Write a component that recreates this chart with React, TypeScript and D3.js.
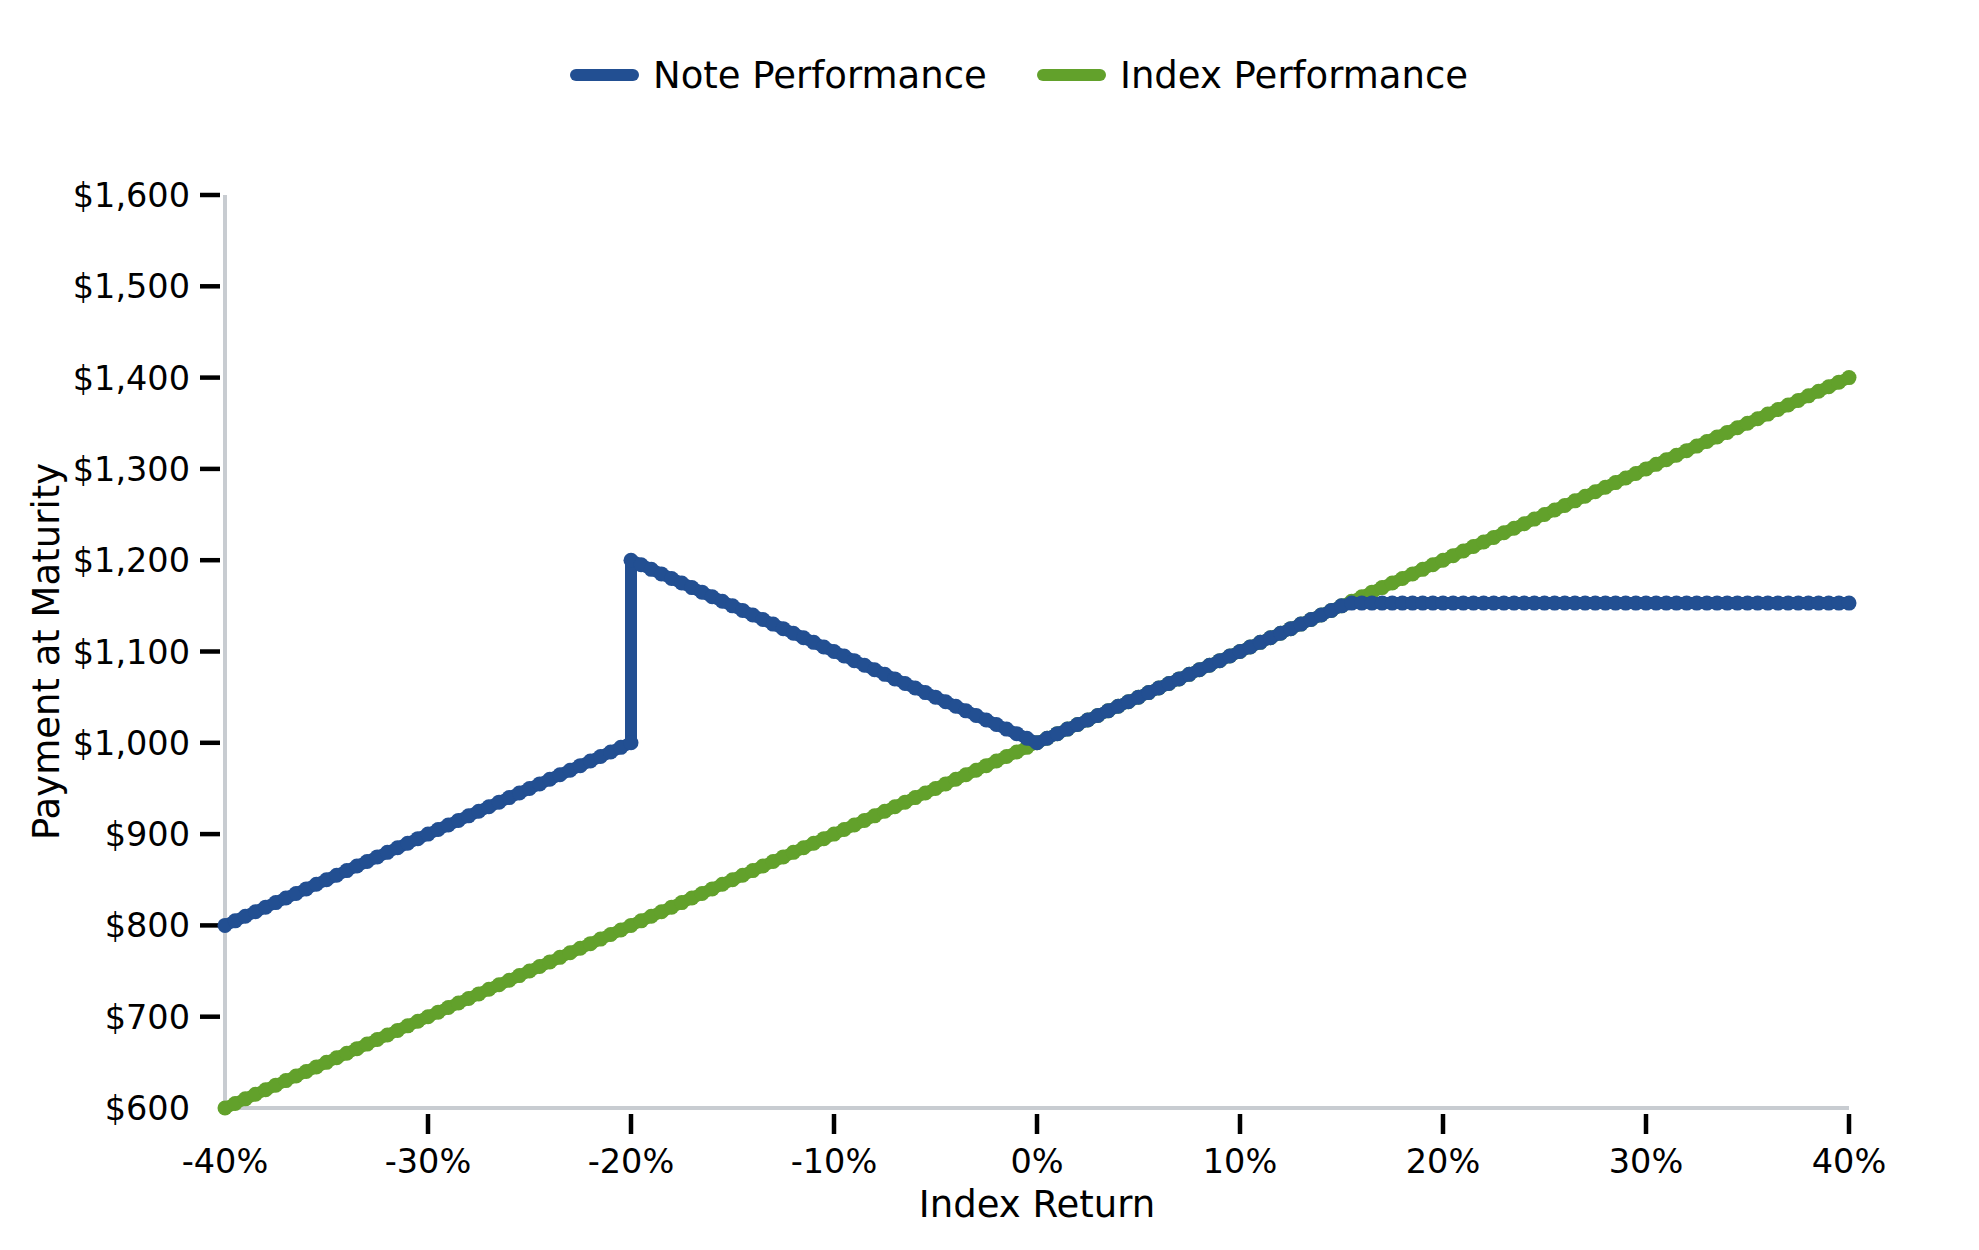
import * as d3 from "d3";
import React, { useEffect, useRef } from "react";

// index return in percent, one point every half percent
const returns = [
  -40, -39.5, -39, -38.5, -38, -37.5, -37, -36.5, -36, -35.5,
  -35, -34.5, -34, -33.5, -33, -32.5, -32, -31.5, -31, -30.5,
  -30, -29.5, -29, -28.5, -28, -27.5, -27, -26.5, -26, -25.5,
  -25, -24.5, -24, -23.5, -23, -22.5, -22, -21.5, -21, -20.5,
  -20, -19.5, -19, -18.5, -18, -17.5, -17, -16.5, -16, -15.5,
  -15, -14.5, -14, -13.5, -13, -12.5, -12, -11.5, -11, -10.5,
  -10, -9.5, -9, -8.5, -8, -7.5, -7, -6.5, -6, -5.5,
  -5, -4.5, -4, -3.5, -3, -2.5, -2, -1.5, -1, -0.5,
  0, 0.5, 1, 1.5, 2, 2.5, 3, 3.5, 4, 4.5,
  5, 5.5, 6, 6.5, 7, 7.5, 8, 8.5, 9, 9.5,
  10, 10.5, 11, 11.5, 12, 12.5, 13, 13.5, 14, 14.5,
  15, 15.5, 16, 16.5, 17, 17.5, 18, 18.5, 19, 19.5,
  20, 20.5, 21, 21.5, 22, 22.5, 23, 23.5, 24, 24.5,
  25, 25.5, 26, 26.5, 27, 27.5, 28, 28.5, 29, 29.5,
  30, 30.5, 31, 31.5, 32, 32.5, 33, 33.5, 34, 34.5,
  35, 35.5, 36, 36.5, 37, 37.5, 38, 38.5, 39, 39.5,
  40,
];

const indexValues = [
  600, 605, 610, 615, 620, 625, 630, 635, 640, 645,
  650, 655, 660, 665, 670, 675, 680, 685, 690, 695,
  700, 705, 710, 715, 720, 725, 730, 735, 740, 745,
  750, 755, 760, 765, 770, 775, 780, 785, 790, 795,
  800, 805, 810, 815, 820, 825, 830, 835, 840, 845,
  850, 855, 860, 865, 870, 875, 880, 885, 890, 895,
  900, 905, 910, 915, 920, 925, 930, 935, 940, 945,
  950, 955, 960, 965, 970, 975, 980, 985, 990, 995,
  1000, 1005, 1010, 1015, 1020, 1025, 1030, 1035, 1040, 1045,
  1050, 1055, 1060, 1065, 1070, 1075, 1080, 1085, 1090, 1095,
  1100, 1105, 1110, 1115, 1120, 1125, 1130, 1135, 1140, 1145,
  1150, 1155, 1160, 1165, 1170, 1175, 1180, 1185, 1190, 1195,
  1200, 1205, 1210, 1215, 1220, 1225, 1230, 1235, 1240, 1245,
  1250, 1255, 1260, 1265, 1270, 1275, 1280, 1285, 1290, 1295,
  1300, 1305, 1310, 1315, 1320, 1325, 1330, 1335, 1340, 1345,
  1350, 1355, 1360, 1365, 1370, 1375, 1380, 1385, 1390, 1395,
  1400,
];

// note payoff, -40% .. -20%
const noteBelowBarrier = [
  800, 805, 810, 815, 820, 825, 830, 835, 840, 845,
  850, 855, 860, 865, 870, 875, 880, 885, 890, 895,
  900, 905, 910, 915, 920, 925, 930, 935, 940, 945,
  950, 955, 960, 965, 970, 975, 980, 985, 990, 995,
  1000,
];

// note payoff, -20% .. 0%
const noteAbsolute = [
  1200, 1195, 1190, 1185, 1180, 1175, 1170, 1165, 1160, 1155,
  1150, 1145, 1140, 1135, 1130, 1125, 1120, 1115, 1110, 1105,
  1100, 1095, 1090, 1085, 1080, 1075, 1070, 1065, 1060, 1055,
  1050, 1045, 1040, 1035, 1030, 1025, 1020, 1015, 1010, 1005,
  1000,
];

// note payoff, 0.5% .. 40%
const noteUpside = [
  1005, 1010, 1015, 1020, 1025, 1030, 1035, 1040, 1045, 1050,
  1055, 1060, 1065, 1070, 1075, 1080, 1085, 1090, 1095, 1100,
  1105, 1110, 1115, 1120, 1125, 1130, 1135, 1140, 1145, 1150,
  1153, 1153, 1153, 1153, 1153, 1153, 1153, 1153, 1153, 1153,
  1153, 1153, 1153, 1153, 1153, 1153, 1153, 1153, 1153, 1153,
  1153, 1153, 1153, 1153, 1153, 1153, 1153, 1153, 1153, 1153,
  1153, 1153, 1153, 1153, 1153, 1153, 1153, 1153, 1153, 1153,
  1153, 1153, 1153, 1153, 1153, 1153, 1153, 1153, 1153, 1153,
];

const xTicks = [-40, -30, -20, -10, 0, 10, 20, 30, 40];
const yTicks = [600, 700, 800, 900, 1000, 1100, 1200, 1300, 1400, 1500, 1600];
const seriesNames = ["Note Performance", "Index Performance"];

const BLUE = "#224f92";
const GREEN = "#62a12b";

export default function App() {
  const ref = useRef<SVGSVGElement>(null);

  useEffect(() => {
    const width = 1979, height = 1250;
    const svg = d3.select(ref.current!);
    svg.selectAll("*").remove();
    svg.attr("width", width).attr("height", height);

    const x = d3.scaleLinear().domain([-40, 40]).range([225, 1849]);
    const y = d3.scaleLinear().domain([600, 1600]).range([1108, 195]);
    const font = "DejaVu Sans, sans-serif";

    type Pt = [number, number];
    const indexData: Pt[] = returns.map((r, i) => [r, indexValues[i]]);
    const noteData: Pt[] = [
      ...noteBelowBarrier.map((v, i): Pt => [returns[i], v]),
      ...noteAbsolute.map((v, i): Pt => [returns[40 + i], v]),
      ...noteUpside.map((v, i): Pt => [returns[81 + i], v]),
    ];

    // spines
    svg.append("line")
      .attr("x1", x(-40)).attr("x2", x(-40))
      .attr("y1", y(1600)).attr("y2", y(600))
      .attr("stroke", "#c8ccd1").attr("stroke-width", 4);
    svg.append("line")
      .attr("x1", x(-40)).attr("x2", x(40))
      .attr("y1", y(600)).attr("y2", y(600))
      .attr("stroke", "#c8ccd1").attr("stroke-width", 4);

    // y ticks + labels
    const fmtY = d3.format("$,.0f");
    const yg = svg.append("g");
    yg.selectAll("line")
      .data(yTicks.slice(1))
      .join("line")
      .attr("x1", 200).attr("x2", 220)
      .attr("y1", d => y(d)).attr("y2", d => y(d))
      .attr("stroke", "#000").attr("stroke-width", 4.5);
    yg.selectAll("text")
      .data(yTicks)
      .join("text")
      .attr("x", 190)
      .attr("y", d => y(d))
      .attr("dy", "0.36em")
      .attr("text-anchor", "end")
      .style("font-family", font)
      .style("font-size", "33.5px")
      .text(d => fmtY(d));

    // x ticks + labels
    const xg = svg.append("g");
    xg.selectAll("line")
      .data(xTicks.slice(1))
      .join("line")
      .attr("x1", d => x(d)).attr("x2", d => x(d))
      .attr("y1", 1114).attr("y2", 1134)
      .attr("stroke", "#000").attr("stroke-width", 4.5);
    xg.selectAll("text")
      .data(xTicks)
      .join("text")
      .attr("x", d => x(d))
      .attr("y", 1173)
      .attr("text-anchor", "middle")
      .style("font-family", font)
      .style("font-size", "33.5px")
      .text(d => `${d}%`);

    // axis titles
    svg.append("text")
      .attr("x", (x(-40) + x(40)) / 2)
      .attr("y", 1217)
      .attr("text-anchor", "middle")
      .style("font-family", font)
      .style("font-size", "37px")
      .text("Index Return");
    svg.append("text")
      .attr("transform", `translate(59, ${(y(600) + y(1600)) / 2}) rotate(-90)`)
      .attr("text-anchor", "middle")
      .style("font-family", font)
      .style("font-size", "37px")
      .text("Payment at Maturity");

    // series
    const line = d3.line<Pt>().x(d => x(d[0])).y(d => y(d[1]));
    const drawSeries = (data: Pt[], color: string) => {
      const g = svg.append("g");
      g.append("path")
        .attr("d", line(data))
        .attr("fill", "none")
        .attr("stroke", color)
        .attr("stroke-width", 12)
        .attr("stroke-linejoin", "round")
        .attr("stroke-linecap", "round");
      g.selectAll("circle")
        .data(data)
        .join("circle")
        .attr("cx", d => x(d[0]))
        .attr("cy", d => y(d[1]))
        .attr("r", 7.5)
        .attr("fill", color);
    };
    drawSeries(indexData, GREEN);
    drawSeries(noteData, BLUE);

    // legend
    const legend = svg.append("g");
    const legendItems = [
      { name: seriesNames[0], color: BLUE, x0: 576 },
      { name: seriesNames[1], color: GREEN, x0: 1043 },
    ];
    legendItems.forEach(item => {
      legend.append("line")
        .attr("x1", item.x0).attr("x2", item.x0 + 57)
        .attr("y1", 75).attr("y2", 75)
        .attr("stroke", item.color)
        .attr("stroke-width", 12)
        .attr("stroke-linecap", "round");
      legend.append("text")
        .attr("x", item.x0 + 77)
        .attr("y", 88)
        .style("font-family", font)
        .style("font-size", "37px")
        .text(item.name);
    });
  }, []);

  return (
    <svg ref={ref} style={{ position: "absolute", left: 0, top: 0, background: "#fff" }} />
  );
}
